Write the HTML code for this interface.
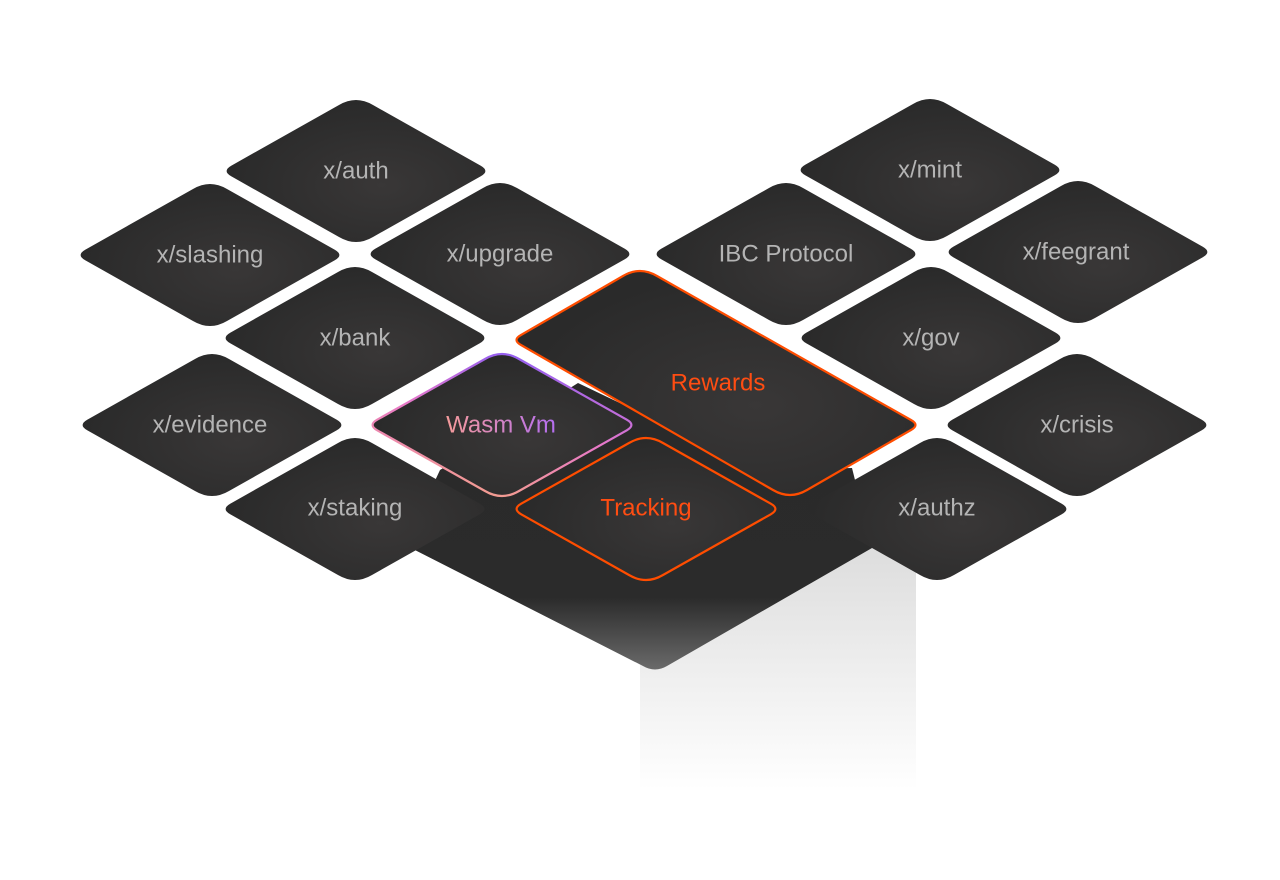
<!DOCTYPE html>
<html><head><meta charset="utf-8"><style>
html,body{margin:0;padding:0;background:#fff}
svg{display:block}
text{font-family:"Liberation Sans",sans-serif;font-size:24px;text-anchor:middle;dominant-baseline:central;fill:#b4b4b4}
</style></head><body>
<svg width="1280" height="880" viewBox="0 0 1280 880">
<defs>
<path id="d" d="M -17,-66 Q 0,-76 17,-66 L 124.8,-5.3 Q 134,0 124.8,5.3 L 17,66 Q 0,76 -17,66 L -124.8,5.3 Q -134,0 -124.8,-5.3 Z"/>
<radialGradient id="tg" cx="0.6" cy="0.6" r="0.6">
<stop offset="0" stop-color="#393737"/><stop offset="1" stop-color="#2a2a2a"/></radialGradient>
<linearGradient id="col" x1="0" y1="0" x2="0" y2="1">
<stop offset="0" stop-color="#dcdcdc"/><stop offset="1" stop-color="#ffffff"/></linearGradient>
<linearGradient id="base" x1="0" y1="0" x2="0" y2="1">
<stop offset="0" stop-color="#2a2a2a"/><stop offset="0.75" stop-color="#2b2b2b"/><stop offset="1" stop-color="#6a6a6a"/></linearGradient>
<linearGradient id="wasm" x1="0.3" y1="1" x2="0.7" y2="0">
<stop offset="0" stop-color="#f4a08a"/><stop offset="0.5" stop-color="#e879c8"/><stop offset="1" stop-color="#8a5cf5"/></linearGradient>
<linearGradient id="wasmt" x1="0" y1="0" x2="1" y2="0">
<stop offset="0" stop-color="#f49a9a"/><stop offset="1" stop-color="#b46ef0"/></linearGradient>
</defs>
<rect x="640" y="540" width="276" height="250" fill="url(#col)"/>
<path d="M 578,383 L 760,470 L 852,468 L 872,548 L 667,666 Q 655,673 643,666 L 405,545 L 440,470 Z" fill="url(#base)"/>

<g fill="url(#tg)">
<use href="#d" transform="translate(356,171)"/>
<use href="#d" transform="translate(210,255)"/>
<use href="#d" transform="translate(500,254)"/>
<use href="#d" transform="translate(355,338)"/>
<use href="#d" transform="translate(212,425)"/>
<use href="#d" transform="translate(355,509)"/>
<use href="#d" transform="translate(786,254)"/>
<use href="#d" transform="translate(930,170)"/>
<use href="#d" transform="translate(1078,252)"/>
<use href="#d" transform="translate(931,338)"/>
<use href="#d" transform="translate(1077,425)"/>
<use href="#d" transform="translate(937,509)"/>
</g>
<path d="M 623,276 Q 640,266 657,276 L 911,420 Q 920,425 911,430 L 807,490 Q 790,500 773,490 L 521,345 Q 512,340 521,335 Z" fill="url(#tg)" stroke="#ff4d00" stroke-width="2.2"/>
<use href="#d" transform="translate(502,425)" fill="url(#tg)" stroke="url(#wasm)" stroke-width="2.2"/>
<use href="#d" transform="translate(646,509)" fill="url(#tg)" stroke="#ff4d00" stroke-width="2.2"/>

<text x="356" y="171">x/auth</text>
<text x="210" y="255">x/slashing</text>
<text x="500" y="254">x/upgrade</text>
<text x="355" y="338">x/bank</text>
<text x="210" y="425">x/evidence</text>
<text x="355" y="508">x/staking</text>
<text x="786" y="254">IBC Protocol</text>
<text x="930" y="170">x/mint</text>
<text x="1076" y="252">x/feegrant</text>
<text x="931" y="338">x/gov</text>
<text x="1077" y="425">x/crisis</text>
<text x="937" y="508">x/authz</text>
<text x="718" y="383" style="fill:#ff4d12">Rewards</text>
<text x="646" y="508" style="fill:#ff4d12">Tracking</text>
<text x="501" y="425" style="fill:url(#wasmt)">Wasm Vm</text>
</svg>
</body></html>
